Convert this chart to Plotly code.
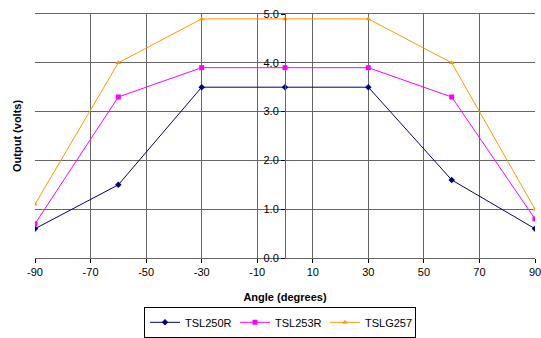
import plotly.graph_objects as go

angles = [-90, -60, -30, 0, 30, 60, 90]
tsl250r = [0.6, 1.5, 3.5, 3.5, 3.5, 1.6, 0.6]
tsl253r = [0.7, 3.3, 3.9, 3.9, 3.9, 3.3, 0.8]
tslg257 = [1.1, 4.0, 4.9, 4.9, 4.9, 4.0, 1.0]
x_ticks = [-90, -70, -50, -30, -10, 10, 30, 50, 70, 90]
x_tick_labels = ["-90", "-70", "-50", "-30", "-10", "10", "30", "50", "70", "90"]
y_ticks = [0, 1, 2, 3, 4, 5]

font = "Liberation Sans, Arial, sans-serif"

fig = go.Figure()
fig.add_trace(go.Scatter(x=angles, y=tsl250r, name="TSL250R", mode="lines+markers",
                         line=dict(color="#000080", width=1),
                         marker=dict(symbol="diamond", size=5, color="#000080")))
fig.add_trace(go.Scatter(x=angles, y=tsl253r, name="TSL253R", mode="lines+markers",
                         line=dict(color="#FF00FF", width=1),
                         marker=dict(symbol="square", size=5, color="#FF00FF")))
fig.add_trace(go.Scatter(x=angles, y=tslg257, name="TSLG257", mode="lines+markers",
                         line=dict(color="#FF9900", width=1),
                         marker=dict(symbol="triangle-up", size=5, color="#FF9900")))

fig.update_layout(
    width=541, height=338,
    margin=dict(l=35, r=6, t=14, b=80, autoexpand=False),
    paper_bgcolor="white", plot_bgcolor="white",
    font=dict(family=font, size=11, color="black"),
    xaxis=dict(range=[-90, 90], tickvals=x_ticks, ticktext=x_tick_labels, showgrid=True,
               gridcolor="#666666", gridwidth=1, zeroline=False,
               showline=True, linecolor="#666666", mirror=True,
               ticks="outside", ticklen=4, tickcolor="black",
               ticklabeloverflow="allow", automargin=False,
               title=dict(text="<b>Angle (degrees)</b>", font=dict(size=11), standoff=16)),
    yaxis=dict(range=[0, 5], tickvals=y_ticks, tickformat=".1f", showgrid=True,
               gridcolor="#666666", gridwidth=1, zeroline=False,
               anchor="free", position=0.5, automargin=False,
               showline=True, linecolor="#666666",
               ticks="outside", ticklen=4, tickcolor="black"),
    legend=dict(orientation="h", x=0.49, xanchor="center", y=-0.2, yanchor="top",
                bordercolor="black", borderwidth=1, itemwidth=30,
                entrywidth=45, entrywidthmode="pixels",
                font=dict(size=11), tracegroupgap=0),
    showlegend=True,
    annotations=[dict(text="<b>Output (volts)</b>", xref="paper", yref="paper",
                      x=-0.036, y=0.5, xanchor="center", yanchor="middle",
                      textangle=-90, showarrow=False, font=dict(size=11))],
)

fig.write_html("out.html")
